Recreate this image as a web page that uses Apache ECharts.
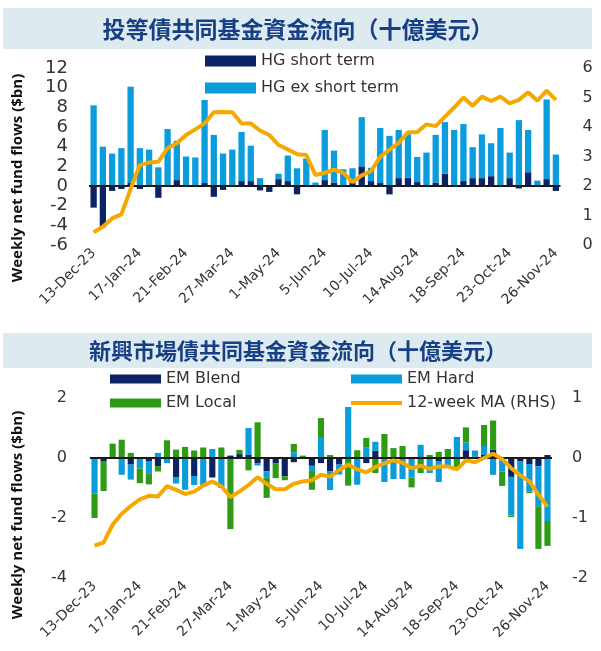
<!DOCTYPE html>
<html><head><meta charset="utf-8">
<script src="https://cdn.jsdelivr.net/npm/echarts@6/dist/echarts.min.js"></script>
<style>html,body{margin:0;padding:0;background:#fff}#c{width:601px;height:651px}</style>
</head><body><div id="c"></div>
<script>
const weeks = ['13-Dec-23','20-Dec-23','27-Dec-23','3-Jan-24','10-Jan-24','17-Jan-24','24-Jan-24','31-Jan-24','7-Feb-24','14-Feb-24','21-Feb-24','28-Feb-24','6-Mar-24','13-Mar-24','20-Mar-24','27-Mar-24','3-Apr-24','10-Apr-24','17-Apr-24','24-Apr-24','1-May-24','8-May-24','15-May-24','22-May-24','29-May-24','5-Jun-24','12-Jun-24','19-Jun-24','26-Jun-24','3-Jul-24','10-Jul-24','17-Jul-24','24-Jul-24','31-Jul-24','7-Aug-24','14-Aug-24','21-Aug-24','28-Aug-24','4-Sep-24','11-Sep-24','18-Sep-24','25-Sep-24','2-Oct-24','9-Oct-24','16-Oct-24','23-Oct-24','30-Oct-24','6-Nov-24','13-Nov-24','20-Nov-24','26-Nov-24'];

// Top panel: investment-grade bond fund flows ($bn)
const hgShort = [-2.2,-4.2,-0.5,-0.3,0.3,-0.3,-0.1,-1.2,0,0.6,0,-0.05,0.3,-1.1,-0.4,-0.1,0.5,0.5,-0.45,-0.6,0.7,0.5,-0.85,0,0,0.6,0.35,0,0.3,2.0,0.5,0.3,-0.85,0.8,0.85,0.4,0,0.35,1.25,0,0.5,0.8,0.8,1.0,0,0.8,-0.25,1.4,-0.1,0.7,-0.5];
const hgEx = [8.2,4.0,3.3,3.85,9.8,3.85,3.7,1.9,5.8,4.0,3.0,2.9,8.45,5.2,3.3,3.7,5.0,3.6,0.8,0,0.55,2.6,1.8,2.8,0.35,5.1,3.25,1.7,1.5,5.0,1.35,5.6,5.1,4.9,4.4,2.55,3.4,4.85,5.25,5.7,5.8,3.15,4.45,3.35,5.9,2.6,6.7,4.3,0.55,8.1,3.2];
const hgMA = [0.43,0.62,0.9,1.04,1.9,2.71,2.8,2.82,3.28,3.45,3.73,3.92,4.12,4.5,4.51,4.5,4.12,4.12,3.88,3.73,3.39,3.24,3.08,3.05,2.37,2.45,2.55,2.45,2.13,2.36,2.5,2.99,3.23,3.46,3.82,3.82,4.09,4.03,4.35,4.66,5.0,4.72,5.03,4.88,5.03,4.8,4.92,5.18,4.89,5.23,4.92];

// Bottom panel: EM bond fund flows ($bn)
const emBlend = [0,-0.1,0,0,-0.22,0,-0.1,-0.27,0,-0.65,0,-0.6,0,-0.65,0,0.08,0.13,0.1,-0.17,-0.44,-0.17,-0.61,-0.14,0,-0.26,-0.17,-0.44,-0.22,0,0,-0.17,0.24,0,0,0,0,0,0,-0.1,0,0,0.26,0.05,0.1,0.28,0,-0.63,-0.1,-0.2,-0.28,0.1];
const emHard = [-1.19,0,0,-0.56,-0.5,-0.35,-0.43,0.17,-0.17,-0.2,-1.06,-0.3,-0.95,0.3,-1.0,0,0,0.9,-0.08,-0.22,0,0,0.19,0,-0.17,0.7,-0.63,-0.33,1.7,-0.89,0.36,0.3,-0.8,-0.7,-0.7,-0.65,0.44,-0.5,-0.7,-0.3,0.7,0.26,0.2,0.3,-0.56,-0.45,-1.29,-2.93,-0.92,-1.33,-2.1];
const emLocal = [-0.81,-1.0,0.48,0.61,0.17,-0.49,-0.35,-0.18,0.59,0.28,0.37,0.25,0.35,0,0.35,-2.37,0.14,-0.41,1.19,-0.67,-0.5,-0.13,0.28,0.08,-0.63,0.63,0.1,0,-0.92,0.26,0.31,-0.5,0.8,0.33,0.4,-0.33,-0.5,0.1,0.2,0.3,-0.3,0.5,0,0.7,0.97,-0.48,-0.05,0,-0.05,-1.42,-0.83];
const emMA = [-1.46,-1.41,-1.11,-0.93,-0.8,-0.69,-0.63,-0.64,-0.47,-0.53,-0.6,-0.56,-0.46,-0.39,-0.47,-0.65,-0.56,-0.45,-0.32,-0.43,-0.52,-0.52,-0.43,-0.39,-0.37,-0.28,-0.31,-0.2,-0.11,-0.19,-0.24,-0.15,-0.09,-0.04,-0.08,-0.17,-0.13,-0.18,-0.14,-0.14,-0.19,-0.04,-0.07,0,0.07,-0.02,-0.17,-0.29,-0.39,-0.61,-0.81];

const titles = ['投等債共同基金資金流向（十億美元）','新興市場債共同基金資金流向（十億美元）'];
const yName = 'Weekly net fund flows ($bn)';

const NAVY = '#0B2265', BLUE = '#0A9CDB', GREEN = '#2F9B15', ORANGE = '#F5A800';
const FONT = '"DejaVu Sans", sans-serif';
const zeroLine = {silent:true, symbol:'none', label:{show:false}, lineStyle:{color:'#1a1a1a', width:2, type:'solid'}, data:[{yAxis:0}]};

const chart = echarts.init(document.getElementById('c'), null, {renderer:'canvas'});
const xCommon = (gi) => ({
  type:'category', gridIndex:gi, data:weeks, boundaryGap:true,
  axisLine:{show:false, onZero:false}, axisTick:{show:false},
  axisLabel:{interval:4, rotate:45, margin:6, fontSize:14, color:'#333', fontFamily:FONT}
});
const yCommon = (gi, min, max, interval, pos, fs, margin) => ({
  type:'value', gridIndex:gi, min, max, interval, position:pos,
  axisLine:{show:false}, axisTick:{show:false}, splitLine:{show:false},
  axisLabel:{fontSize:fs, color:'#333', fontFamily:FONT, margin}
});
const legendText = {fontSize:16, color:'#333', fontFamily:FONT};

chart.setOption({
  animation:false,
  backgroundColor:'#fff',
  grid:[
    {left:89, top:68, width:471.5, height:177},
    {left:90, top:398, width:462, height:180}
  ],
  xAxis:[xCommon(0), xCommon(1)],
  yAxis:[
    yCommon(0,-6,12,2,'left',18,21),
    yCommon(0,0,6,1,'right',16,22),
    yCommon(1,-4,2,2,'left',16,23),
    yCommon(1,-2,1,1,'right',16,20)
  ],
  legend:[
    {orient:'vertical', left:200, top:48, itemWidth:51, itemHeight:11, itemGap:11, icon:'rect',
     data:['HG short term','HG ex short term'], textStyle:legendText},
    {orient:'vertical', left:105, top:366, itemWidth:51, itemHeight:9, itemGap:8, icon:'rect',
     data:['EM Blend','EM Local'], textStyle:legendText},
    {orient:'vertical', left:346, top:366, itemWidth:51, itemHeight:9, itemGap:8,
     data:[{name:'EM Hard', icon:'rect'}, {name:'12-week MA (RHS)', icon:'path://M0,0H51V4H0Z', itemStyle:{color:ORANGE, borderWidth:0}}],
     textStyle:legendText}
  ],
  graphic:[
    {type:'rect', shape:{x:3, y:8, width:589, height:41}, style:{fill:'#DDEBF1'}, z:-10},
    {type:'rect', shape:{x:3, y:333, width:589, height:35}, style:{fill:'#DDEBF1'}, z:-10},
    {type:'text', x:298, y:29, style:{text:titles[0], font:'bold 23px "Noto Sans CJK TC"', fill:'#173F84', textAlign:'center', textVerticalAlign:'middle'}},
    {type:'text', x:298, y:351, style:{text:titles[1], font:'bold 22px "Noto Sans CJK TC"', fill:'#173F84', textAlign:'center', textVerticalAlign:'middle'}},
    {type:'text', x:18, y:178, rotation:Math.PI/2, style:{text:yName, font:'bold 15px "Open Sans"', fill:'#111', textAlign:'center', textVerticalAlign:'middle'}},
    {type:'text', x:18, y:515, rotation:Math.PI/2, style:{text:yName, font:'bold 15px "Open Sans"', fill:'#111', textAlign:'center', textVerticalAlign:'middle'}}
  ],
  series:[
    {name:'HG short term', type:'bar', xAxisIndex:0, yAxisIndex:0, stack:'hg', data:hgShort, itemStyle:{color:NAVY}, barCategoryGap:'32%', markLine:zeroLine},
    {name:'HG ex short term', type:'bar', xAxisIndex:0, yAxisIndex:0, stack:'hg', data:hgEx, itemStyle:{color:BLUE}},
    {name:'HG 12-week MA', type:'line', xAxisIndex:0, yAxisIndex:1, data:hgMA, symbol:'none', lineStyle:{color:ORANGE, width:4}, itemStyle:{color:ORANGE}, z:5},
    {name:'EM Blend', type:'bar', xAxisIndex:1, yAxisIndex:2, stack:'em', data:emBlend, itemStyle:{color:NAVY}, barCategoryGap:'32%', markLine:zeroLine},
    {name:'EM Hard', type:'bar', xAxisIndex:1, yAxisIndex:2, stack:'em', data:emHard, itemStyle:{color:BLUE}},
    {name:'EM Local', type:'bar', xAxisIndex:1, yAxisIndex:2, stack:'em', data:emLocal, itemStyle:{color:GREEN}},
    {name:'12-week MA (RHS)', type:'line', xAxisIndex:1, yAxisIndex:3, data:emMA, symbol:'none', lineStyle:{color:ORANGE, width:4}, itemStyle:{color:ORANGE}, z:5}
  ]
});
</script></body></html>
